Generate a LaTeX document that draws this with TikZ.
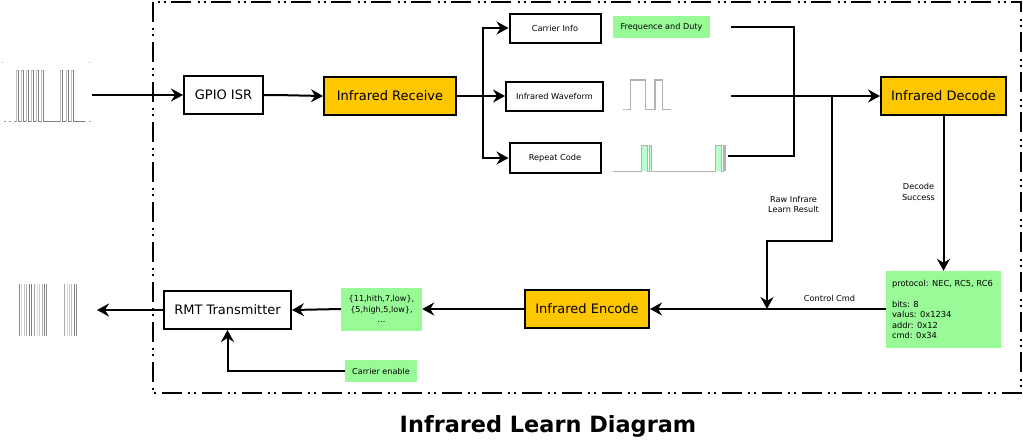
\documentclass[tikz,border=0pt]{standalone}
\usepackage{fontspec}
\setmainfont{DejaVu Sans}
\usetikzlibrary{arrows.meta}
\definecolor{ygreen}{HTML}{98FB98}
\definecolor{yorange}{HTML}{FFC700}
\definecolor{pale}{HTML}{BBFFCC}
\tikzset{
  x=1pt,y=-1pt,
  flowline/.style={line width=2pt,black},
  arr/.style={flowline,-{Stealth[length=12pt,width=13pt,inset=4pt]}},
  wbox/.style={draw=black,line width=2pt,fill=white,inner sep=0pt,font=\fontsize{13}{15}\selectfont},
  sbox/.style={draw=black,line width=2pt,fill=white,inner sep=0pt,font=\fontsize{8.2}{10}\selectfont},
  obox/.style={draw=black,line width=2pt,fill=yorange,inner sep=0pt,font=\fontsize{13}{15}\selectfont},
  gbox/.style={fill=ygreen,inner sep=0pt,font=\fontsize{8.1}{10.4}\selectfont},
  lbl/.style={inner sep=0pt,font=\fontsize{8.2}{10.4}\selectfont,align=center},
  wave/.style={draw=black!50,line width=0.9pt},
  swave/.style={draw=black!30,line width=1.1pt},
}
\begin{document}
\begin{tikzpicture}
\useasboundingbox (0,0) rectangle (1023,440);
\draw[line width=2pt,dash pattern=on 20pt off 5.5pt on 2pt off 4pt on 2pt off 6.5pt] (153,2) rectangle (1021,393);
% boxes
\node[wbox,minimum width=79pt,minimum height=38pt] (gpio) at (223.5,95) {GPIO ISR};
\node[obox,minimum width=132pt,minimum height=38pt] (recv) at (390,96) {Infrared Receive};
\node[sbox,minimum width=91pt,minimum height=29pt] (carrier) at (555,28) {Carrier Info};
\node[sbox,minimum width=97pt,minimum height=29pt] (wavef) at (554.5,96) {Infrared Waveform};
\node[sbox,minimum width=91pt,minimum height=30pt] (repeat) at (555,158) {Repeat Code};
\node[gbox,minimum width=97pt,minimum height=22pt] (freq) at (661.5,27) {Frequence and Duty};
\node[obox,minimum width=125pt,minimum height=38pt] (dec) at (943.5,96) {Infrared Decode};
\node[obox,minimum width=124pt,minimum height=38pt] (enc) at (587,309) {Infrared Encode};
\node[wbox,minimum width=127pt,minimum height=38pt] (rmt) at (227.5,310) {RMT Transmitter};
\node[gbox,minimum width=81pt,minimum height=43pt,align=center] (seq) at (381.5,309) {\{11,hith,7,low\},\\\{5,high,5,low\},\\...};
\node[gbox,minimum width=72pt,minimum height=22pt] (cen) at (381,371) {Carrier enable};
\node[gbox,minimum width=115pt,minimum height=77pt,align=left] (res) at (943.5,309.5) {\parbox{103pt}{\fontsize{8.3}{10.4}\selectfont protocol: NEC, RC5, RC6\\[10.4pt]bits: 8\\valus: 0x1234\\addr: 0x12\\cmd: 0x34}};
% free ends
\coordinate (inwave) at (92,95);
\coordinate (outwave) at (97,310);
\coordinate (t1) at (731,27);
\coordinate (t2) at (731,96);
\coordinate (t3) at (728,156);
\coordinate (bus) at (794,96);
\coordinate (tap) at (832,96);
\coordinate (elbow) at (767,241);
\coordinate (join) at (767,309);
\coordinate (fork) at (483,96);
% connectors
\draw[arr] (inwave) -- (gpio);
\draw[arr] (gpio.east) -- ++(12,0) -- (recv.west);
\draw[arr] (recv.east) -- (wavef.west);
\draw[arr] (fork) |- (carrier.west);
\draw[arr] (fork) |- (repeat.west);
\draw[flowline] (t1) -| (bus);
\draw[flowline] (t3) -| (bus);
\draw[arr] (t2) -- (dec.west);
\draw[arr] (tap) |- (elbow) -- (join);
\draw[arr] (dec.south) -- (res.north);
\draw[arr] (res.west |- enc.east) -- (enc.east);
\draw[arr] (enc.west) -- (seq.east);
\draw[arr] (seq.west) -- (rmt.east);
\draw[arr] (rmt.west) -- (outwave);
\draw[arr] (cen.west) -| (rmt.south);
% labels
\node[lbl] (rawl) at (793.5,204.5) {Raw Infrare\\Learn Result};
\node[lbl] (decl) at (918.5,192) {Decode\\Success};
\node[lbl] (cmdl) at (829.5,298) {Control Cmd};
\node[font=\bfseries\fontsize{22.4}{26}\selectfont,inner sep=0pt] (title) at (548,426.5) {Infrared Learn Diagram};
% input wave
\foreach \xx in {16,21,26,31,36,41,60,66,71}{
  \draw[black!25,line width=0.7pt] (\xx,121.5) -- (\xx,70) -- (\xx+2.3,70);
  \draw[wave] (\xx+2.3,70) -- (\xx+2.3,121.5);
}
\draw[wave] (18.3,121.5) -- (21,121.5) (23.3,121.5) -- (26,121.5) (28.3,121.5) -- (31,121.5) (33.3,121.5) -- (36,121.5) (38.3,121.5) -- (41,121.5) (43.3,121.5) -- (60,121.5) (62.3,121.5) -- (66,121.5) (68.3,121.5) -- (71,121.5) (73.3,121.5) -- (84,121.5);
\draw[black!40,line width=0.9pt,dash pattern=on 2pt off 3pt] (4,121.5) -- (16,121.5) (84,121.5) -- (91,121.5);
\draw[black!12,line width=0.7pt] (1,62) -- (4,62) (88,62) -- (91,62);
% output wave
\foreach \xx/\sh in {19.5/45,21.5/15,24/22,26/30,29.5/50,31.5/50,34.5/35,37/15,39.5/20,42/30,44.5/50,46.5/45,64.5/35,67/15,69.5/20,71.5/25,74.5/50,76.5/45}{
  \draw[black!\sh,line width=0.9pt] (\xx,284) -- (\xx,336);
}
% small waveform
\draw[swave,dash pattern=on 1.5pt off 1.5pt] (623,109.3) -- (627,109.3);
\draw[swave] (627,109.3) -- (630.7,109.3) -- (630.7,80) -- (645.7,80) -- (645.7,109.3) -- (655,109.3) -- (655,80) -- (662.7,80) -- (662.7,109.3) -- (671,109.3);
% repeat code wave
\fill[pale] (641.3,145.3) rectangle (647.7,171.3);
\fill[pale] (649.3,145.3) rectangle (651.3,171.3);
\fill[pale] (715.3,145.3) rectangle (721.7,171.3);
\fill[pale] (723.3,145.3) rectangle (725,171.3);
\draw[swave] (613,171.3) -- (641.3,171.3) -- (641.3,145.3) -- (647.7,145.3) -- (647.7,171.3) -- (649.3,171.3) -- (649.3,145.3) -- (651.3,145.3) -- (651.3,171.3) -- (715.3,171.3) -- (715.3,145.3) -- (721.7,145.3) -- (721.7,171.3) -- (723.3,171.3) -- (723.3,145.3) -- (725,145.3) -- (725,171.3);
\end{tikzpicture}
\end{document}
